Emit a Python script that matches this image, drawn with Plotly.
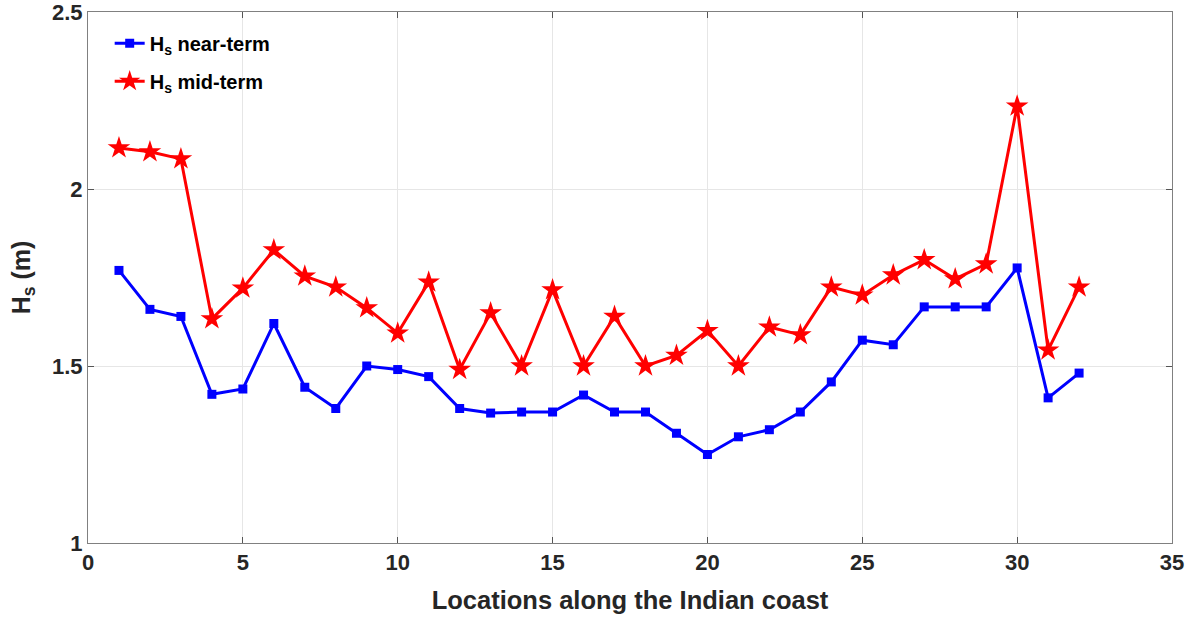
import plotly.graph_objects as go

locations = list(range(1, 33))
hs_near = [1.77, 1.66, 1.64, 1.42, 1.435, 1.62, 1.44, 1.38, 1.50, 1.49, 1.47, 1.38,
           1.367, 1.37, 1.37, 1.418, 1.37, 1.37, 1.31, 1.25, 1.30, 1.32, 1.37, 1.455,
           1.573, 1.56, 1.667, 1.667, 1.667, 1.777, 1.41, 1.48]
hs_mid = [2.116, 2.105, 2.085, 1.633, 1.72, 1.828, 1.754, 1.723, 1.664, 1.593, 1.737, 1.49,
          1.65, 1.50, 1.715, 1.50, 1.64, 1.50, 1.53, 1.60, 1.50, 1.61, 1.588, 1.723,
          1.70, 1.757, 1.80, 1.746, 1.788, 2.234, 1.545, 1.723]
x_ticks = [0, 5, 10, 15, 20, 25, 30, 35]
y_ticks = [1, 1.5, 2, 2.5]

font_family = "Liberation Sans, Arial, sans-serif"
text_color = "#262626"

fig = go.Figure()
fig.add_trace(go.Scatter(
    x=locations, y=hs_near, mode="lines+markers",
    name="H<sub>s</sub> near-term", legendgroup="a",
    line=dict(color="#0000ff", width=3),
    marker=dict(symbol="square", size=9, color="#0000ff"),
))
fig.add_trace(go.Scatter(
    x=locations, y=hs_mid, mode="lines+markers",
    name="H<sub>s</sub> mid-term", legendgroup="b",
    line=dict(color="#ff0000", width=3),
    marker=dict(symbol="star", size=17, color="#ff0000"),
))

axis_common = dict(
    showline=True, linecolor="#808080", linewidth=1, mirror="ticks",
    ticks="inside", ticklen=6, tickcolor="#555555",
    showgrid=True, gridcolor="#e6e6e6", gridwidth=1,
    zeroline=False, automargin=False, ticklabeloverflow="allow",
    tickfont=dict(family=font_family, size=22, color=text_color, weight="bold"),
)

fig.update_layout(
    width=1194, height=619,
    margin=dict(l=88, r=22, t=12, b=76),
    paper_bgcolor="white", plot_bgcolor="white",
    font=dict(family=font_family, color=text_color),
    showlegend=True,
    legend=dict(
        x=0.02, y=0.978, xanchor="left", yanchor="top",
        bgcolor="rgba(255,255,255,0)", borderwidth=0,
        font=dict(family=font_family, size=20, color="#000000", weight="bold"),
        itemwidth=30, tracegroupgap=9,
    ),
    xaxis=dict(
        range=[0, 35], tickvals=x_ticks, ticktext=[str(v) for v in x_ticks],
        title=dict(text="Locations along the Indian coast", standoff=16,
                   font=dict(family=font_family, size=25.5, color=text_color, weight="bold")),
        **axis_common,
    ),
    yaxis=dict(
        range=[1, 2.5], tickvals=y_ticks, ticktext=["1", "1.5", "2", "2.5"],
        title=dict(text="H<sub>s</sub> (m)", standoff=14,
                   font=dict(family=font_family, size=25, color=text_color, weight="bold")),
        **axis_common,
    ),
)

fig.write_html("out.html", config={"displayModeBar": False},
               post_script="document.body.style.margin='0';")
